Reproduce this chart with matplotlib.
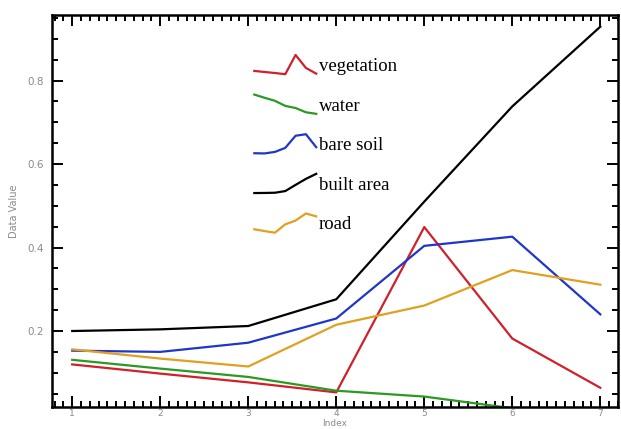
import numpy as np
import matplotlib.pyplot as plt
from matplotlib.lines import Line2D
from matplotlib.legend_handler import HandlerBase
from matplotlib.ticker import MultipleLocator

index = [1, 2, 3, 4, 5, 6, 7]
vegetation = [0.120, 0.098, 0.077, 0.053, 0.449, 0.182, 0.064]
water = [0.131, 0.110, 0.090, 0.057, 0.043, 0.015, 0.005]
bare_soil = [0.153, 0.150, 0.172, 0.230, 0.404, 0.426, 0.240]
built_area = [0.200, 0.204, 0.212, 0.276, 0.510, 0.738, 0.929]
road = [0.156, 0.134, 0.115, 0.215, 0.261, 0.346, 0.311]

labels = ['vegetation', 'water', 'bare soil', 'built area', 'road']
colors = ['#d0202a', '#2a9a22', '#2036c8', '#000000', '#e0a020']


class HandlerShape(HandlerBase):
    # legend icon = the series itself squeezed into the handle box
    def create_artists(self, legend, orig_handle, xdescent, ydescent,
                       width, height, fontsize, trans):
        y = np.asarray(orig_handle.get_ydata(), dtype=float)
        x = np.linspace(0, 1, len(y))
        yn = (y - y.min()) / (y.max() - y.min())
        ln = Line2D(-xdescent + x * width, -ydescent + yn * height,
                    color=orig_handle.get_color(), lw=orig_handle.get_linewidth())
        ln.set_transform(trans)
        return [ln]


fig = plt.figure(figsize=(6.21, 4.29), dpi=100)
ax = fig.add_axes([0.0837, 0.0513, 0.9113, 0.9137])

lines = []
for data, lab, c in zip([vegetation, water, bare_soil, built_area, road], labels, colors):
    l, = ax.plot(index, data, color=c, lw=1.6, label=lab)
    lines.append(l)

ax.set_xlim(0.77, 7.2)
ax.set_ylim(0.018, 0.957)
ax.xaxis.set_major_locator(MultipleLocator(1))
ax.xaxis.set_minor_locator(MultipleLocator(0.1))
ax.yaxis.set_major_locator(MultipleLocator(0.2))
ax.yaxis.set_minor_locator(MultipleLocator(0.05))
ax.tick_params(which='both', direction='in', top=True, right=True,
               colors='black', labelcolor='#8a8a8a', labelsize=7.5, width=1.4)
ax.tick_params(which='major', length=8)
ax.tick_params(axis='x', which='major', pad=1.5, labelsize=6.5)
ax.tick_params(axis='y', which='major', pad=6)
ax.tick_params(which='minor', length=4)
for s in ax.spines.values():
    s.set_linewidth(1.8)

ax.set_xlabel('Index', color='#8a8a8a', fontsize=6.5)
ax.xaxis.set_label_coords(0.5, -0.031)
ax.set_ylabel('Data Value', color='#8a8a8a', fontsize=7, labelpad=6)

leg = ax.legend(lines, labels, handler_map={Line2D: HandlerShape()},
                loc='upper left', bbox_to_anchor=(0.341, 0.922), frameon=False,
                borderpad=0, handlelength=3.3, handleheight=1.2,
                handletextpad=0.15, labelspacing=1.05,
                prop={'family': 'Liberation Serif', 'size': 13.5})

fig.savefig('out.png', dpi=100)
